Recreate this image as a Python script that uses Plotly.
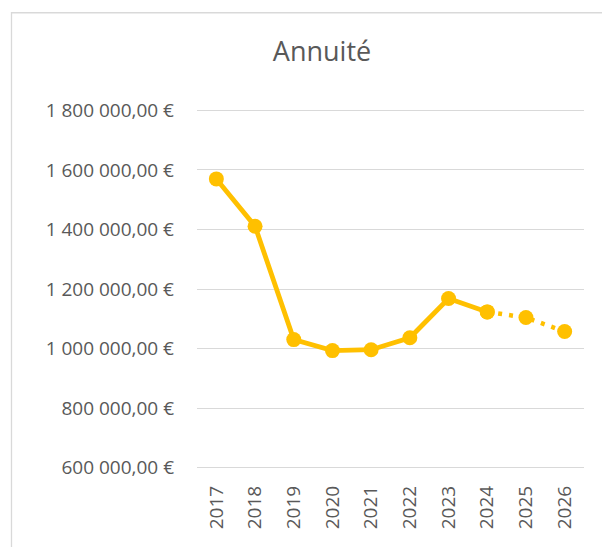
import plotly.graph_objects as go

years = ["2017", "2018", "2019", "2020", "2021", "2022", "2023", "2024", "2025", "2026"]
annuite = [1570000, 1411000, 1030000, 993000, 996000, 1036000, 1168000, 1123000, 1104000, 1057000]
solid_years = years[:8]
solid_vals = annuite[:8]
proj_years = years[7:]
proj_vals = annuite[7:]
y_ticks = [600000, 800000, 1000000, 1200000, 1400000, 1600000, 1800000]
y_ticktext = ["600 000,00 €", "800 000,00 €", "1 000 000,00 €", "1 200 000,00 €",
              "1 400 000,00 €", "1 600 000,00 €", "1 800 000,00 €"]

COLOR = "#FFC000"
FONT = "Open Sans"
TXT = "#595959"

fig = go.Figure()
fig.add_trace(go.Scatter(
    x=proj_years, y=proj_vals, mode="lines+markers",
    line=dict(color=COLOR, width=4.5, dash="4px,7px"),
    marker=dict(color=COLOR, size=15),
    showlegend=False, hoverinfo="skip"))
fig.add_trace(go.Scatter(
    x=solid_years, y=solid_vals, mode="lines+markers",
    line=dict(color=COLOR, width=4.8),
    marker=dict(color=COLOR, size=15),
    showlegend=False))

L, R, T, B = 197, 18, 108.5, 77.5
W, H = 602, 547
pw, ph = W - L - R, H - T - B

def px(x):
    return (x - L) / pw

def py(y):
    return (H - B - y) / ph

fig.update_layout(
    width=W, height=H,
    margin=dict(l=L, r=R, t=T, b=B, autoexpand=False),
    paper_bgcolor="white", plot_bgcolor="white",
    font=dict(family=FONT, color=TXT),
    title=dict(text="Annuité", x=px(322), xanchor="center", xref="paper",
               y=1 - 52 / H, yanchor="middle",
               font=dict(family=FONT, size=27, color=TXT)),
    xaxis=dict(type="category", categoryorder="array", categoryarray=years,
               range=[-0.5, len(years) - 0.5],
               tickangle=-90, showgrid=False, showline=False, zeroline=False,
               ticks="", tickfont=dict(family=FONT, size=19, color=TXT),
               ticklabelstandoff=12, fixedrange=True, automargin=False),
    yaxis=dict(range=[595000, 1805000], tickvals=y_ticks, ticktext=y_ticktext,
               showgrid=True, gridcolor="#D9D9D9", gridwidth=1.3,
               zeroline=False, showline=False, ticks="",
               tickfont=dict(family=FONT, size=19, color=TXT),
               ticklabelstandoff=22, fixedrange=True, automargin=False),
    shapes=[dict(type="rect", xref="paper", yref="paper",
                 x0=px(11.5), x1=px(640), y0=py(600), y1=py(12),
                 line=dict(color="#D9D9D9", width=1.3), layer="below")],
)

fig.write_html("out.html", config={"displayModeBar": False},
               post_script="document.body.style.margin='0';")
